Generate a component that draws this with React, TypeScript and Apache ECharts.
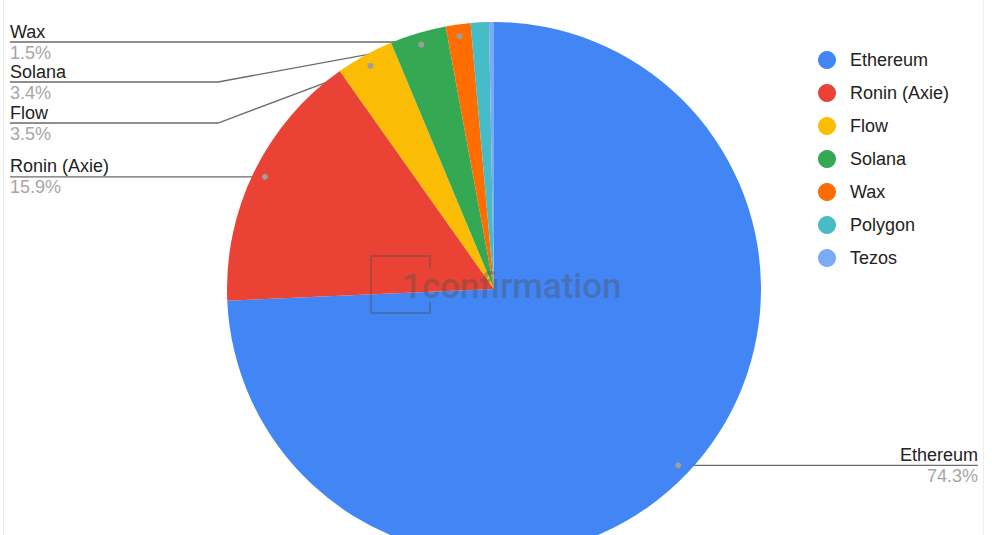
import React, { useEffect, useRef } from "react";
import * as echarts from "echarts";

const categories = ["Ethereum", "Ronin (Axie)", "Flow", "Solana", "Wax", "Polygon", "Tezos"];
const shares = [74.3, 15.9, 3.5, 3.4, 1.5, 1.1, 0.3];
const shareLabels = ["74.3%", "15.9%", "3.5%", "3.4%", "1.5%", "", ""];
const colors = ["#4285f4", "#ea4335", "#fbbc04", "#34a853", "#ff6d01", "#46bdc6", "#7baaf7"];
const labelled = [true, true, true, true, true, false, false];

const CX = 494;
const CY = 289;
const R = 267;
const DOT_R = 255;
const FONT = "'Liberation Sans', Arial, sans-serif";

// label line placement (layout only)
const labelPlacement: Record<string, { lineY?: number; elbowX?: number; side: "left" | "right" }> = {
  Ethereum: { side: "right" },
  "Ronin (Axie)": { side: "left" },
  Flow: { side: "left", lineY: 123, elbowX: 218 },
  Solana: { side: "left", lineY: 82, elbowX: 218 },
  Wax: { side: "left", lineY: 42, elbowX: 393 },
};

export default function App() {
  const ref = useRef<HTMLDivElement>(null);
  useEffect(() => {
    if (!ref.current) return;
    const chart = echarts.init(ref.current, undefined, { renderer: "svg" });

    const dotOf = (p: number[]) => {
      const dx = p[0] - CX;
      const dy = p[1] - CY;
      const d = Math.sqrt(dx * dx + dy * dy) || 1;
      return [CX + (dx / d) * DOT_R, CY + (dy / d) * DOT_R];
    };

    const option: any = {
      animation: false,
      backgroundColor: "#ffffff",
      legend: {
        orient: "vertical",
        left: 813,
        top: 46,
        icon: "circle",
        itemWidth: 18,
        itemHeight: 18,
        itemGap: 15,
        textStyle: {
          fontFamily: FONT,
          fontSize: 18,
          lineHeight: 18,
          color: "#222222",
          padding: [0, 0, 0, 9],
        },
        data: categories,
      },
      series: [
        {
          type: "pie",
          center: [CX, CY],
          radius: R,
          startAngle: 90,
          clockwise: true,
          avoidLabelOverlap: false,
          emphasis: { disabled: true },
          label: {
            show: true,
            position: "outside",
            alignTo: "edge",
            edgeDistance: 10,
            fontFamily: FONT,
            formatter: (p: any) => `{n|${p.name}}\n{p|${shareLabels[p.dataIndex]}}`,
            rich: {
              n: { fontFamily: FONT, fontSize: 18, color: "#222222", lineHeight: 21 },
              p: { fontFamily: FONT, fontSize: 18, color: "#a6a6a6", lineHeight: 21 },
            },
          },
          labelLine: {
            show: true,
            length: 5,
            length2: 5,
            lineStyle: { color: "#6b6b6b", width: 1.3 },
          },
          labelLayout: (params: any) => {
            const name = categories[params.dataIndex];
            const pl = labelPlacement[name];
            if (!pl || !params.labelLinePoints) return {};
            const dot = dotOf(params.labelLinePoints[0]);
            const lineY = pl.lineY != null ? pl.lineY : dot[1];
            const endX = pl.side === "left" ? 10 : 978;
            const pts: number[][] = [dot];
            if (pl.elbowX != null) pts.push([pl.elbowX, lineY]);
            else pts.push([(dot[0] + endX) / 2, lineY]);
            pts.push([endX, lineY]);
            return {
              x: endX,
              y: lineY,
              align: pl.side === "left" ? "left" : "right",
              verticalAlign: "middle",
              labelLinePoints: pts,
            };
          },
          data: categories.map((c, i) => ({
            name: c,
            value: shares[i],
            itemStyle: { color: colors[i] },
            label: { show: labelled[i] },
            labelLine: { show: labelled[i] },
          })),
        },
      ],
    };
    chart.setOption(option);

    // dots at label-line anchors, from the library's own slice layout
    const data = (chart as any).getModel().getSeriesByIndex(0).getData();
    const dots: any[] = [];
    for (let i = 0; i < categories.length; i++) {
      if (!labelled[i]) continue;
      const lay = data.getItemLayout(i);
      if (!lay) continue;
      const mid = (lay.startAngle + lay.endAngle) / 2;
      dots.push({
        type: "circle",
        shape: { cx: lay.cx + Math.cos(mid) * DOT_R, cy: lay.cy + Math.sin(mid) * DOT_R, r: 3 },
        style: { fill: "#9e9e9e" },
        z: 100,
      });
    }

    chart.setOption({
      graphic: [
        ...dots,
        {
          type: "line",
          shape: { x1: 3.5, y1: 0, x2: 3.5, y2: 535 },
          style: { stroke: "#eeeeee", lineWidth: 1 },
        },
        {
          type: "line",
          shape: { x1: 983.5, y1: 0, x2: 983.5, y2: 535 },
          style: { stroke: "#eeeeee", lineWidth: 1 },
        },
        {
          type: "polyline",
          shape: { points: [[430, 268], [430, 256], [371, 256], [371, 313], [430, 313], [430, 302]] },
          style: { stroke: "rgba(80,80,80,0.38)", lineWidth: 2, fill: "none" },
          z: 50,
        },
        {
          type: "text",
          x: 402,
          y: 286,
          style: {
            text: "1confirmation",
            fontFamily: "Roboto, 'Noto Sans', sans-serif",
            fontSize: 35,
            fontWeight: 500,
            fill: "rgba(80,80,80,0.38)",
            verticalAlign: "middle",
            align: "left",
          },
          z: 50,
        },
      ],
    });

    return () => chart.dispose();
  }, []);
  return (
    <div
      ref={ref}
      style={{ position: "absolute", left: 0, top: 0, width: 992, height: 535 }}
    />
  );
}
